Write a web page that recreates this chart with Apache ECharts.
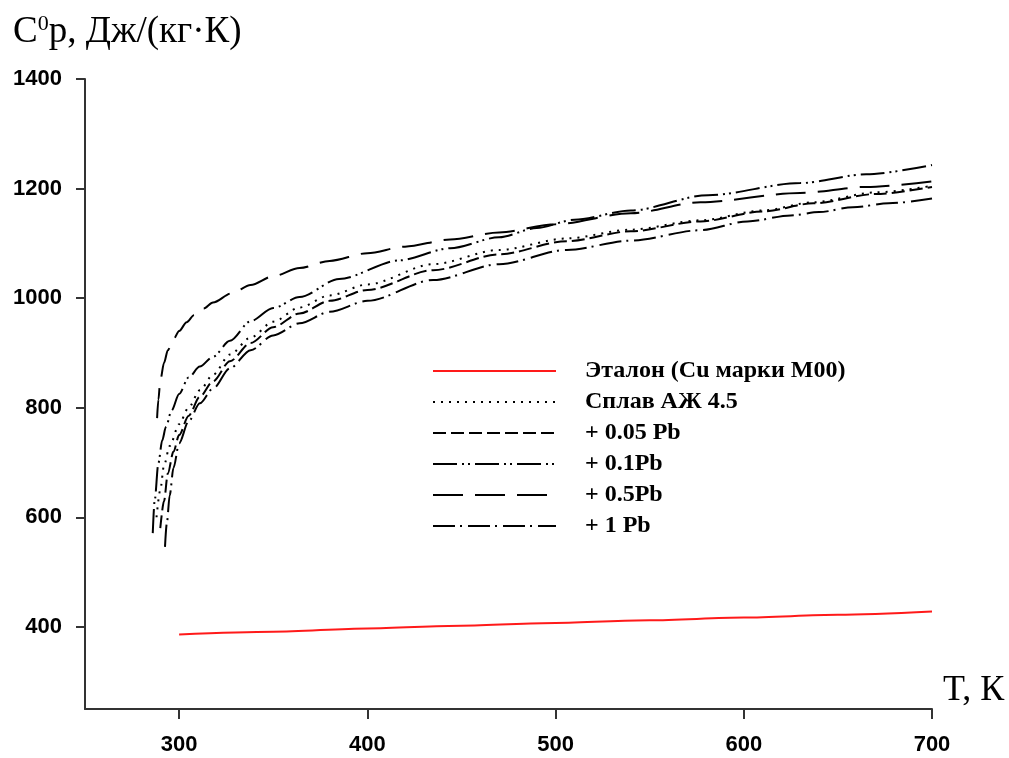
<!DOCTYPE html>
<html>
<head>
<meta charset="utf-8">
<script src="https://cdn.jsdelivr.net/npm/echarts@6/dist/echarts.min.js"></script>
<style>
  html, body { margin: 0; padding: 0; background: #fff; }
  #chart { width: 1009px; height: 758px; }
</style>
</head>
<body>
<div id="chart"></div>
<script>
// tick labels
var xTicks = [300, 400, 500, 600, 700];
var yTicks = [400, 600, 800, 1000, 1200, 1400];

var names = ['Эталон (Cu марки М00)', 'Сплав АЖ 4.5', '+ 0.05 Pb', '+ 0.1Pb', '+ 0.5Pb', '+ 1 Pb'];

// Эталон
var tRef = [300, 350, 400, 450, 500, 550, 600, 650, 700];
var cpRef = [386, 391, 397, 402, 407, 412, 417, 422, 428];

// Сплав АЖ 4.5
var tAlloy = [288, 290, 292, 295, 300, 305, 311, 318, 327, 338, 350, 364, 380, 400, 435, 470, 506, 540, 577, 610, 637, 670, 700];
var cpAlloy = [600, 650, 695, 730, 770, 800, 832, 860, 897, 928, 957, 983, 1005, 1025, 1062, 1088, 1109, 1125, 1142, 1160, 1175, 1193, 1205];

// + 0.05 Pb
var tPb005 = [290, 292, 294, 297, 300, 305, 311, 318, 327, 338, 350, 364, 380, 400, 435, 470, 506, 540, 577, 610, 637, 670, 700];
var cpPb005 = [580, 630, 680, 720, 750, 785, 820, 848, 885, 918, 947, 972, 995, 1015, 1051, 1080, 1104, 1122, 1140, 1158, 1173, 1190, 1203];

// + 0.1Pb
var tPb01 = [286, 287, 289, 291, 293, 296, 300, 305, 311, 318, 327, 338, 350, 364, 385, 417, 444, 470, 490, 510, 540, 581, 630, 665, 700];
var cpPb01 = [571, 630, 699, 740, 765, 795, 825, 855, 875, 893, 922, 958, 982, 1002, 1035, 1069, 1091, 1111, 1128, 1143, 1160, 1188, 1210, 1226, 1243];

// + 0.5Pb
var tPb05 = [288.3, 289, 290, 292, 294, 297, 300, 304, 308, 313, 318, 328, 338, 350, 364, 380, 400, 420, 444, 470, 500, 540, 577, 630, 665, 700];
var cpPb05 = [781, 815, 850, 882, 905, 925, 940, 956, 969, 981, 992, 1009, 1024, 1040, 1055, 1068, 1082, 1094, 1107, 1120, 1135, 1155, 1175, 1192, 1203, 1213];

// + 1 Pb
var tPb1 = [292.5, 293.5, 295, 297, 300, 305, 311, 318, 327, 338, 350, 364, 380, 400, 435, 470, 506, 540, 577, 602, 625, 640, 658, 677, 700];
var cpPb1 = [546, 590, 640, 690, 735, 775, 808, 835, 872, 905, 932, 954, 975, 995, 1033, 1062, 1088, 1105, 1124, 1140, 1151, 1157, 1166, 1173, 1182];

function zip(xs, ys) {
  return xs.map(function (x, i) { return [x, ys[i]]; });
}

var serif = "'Liberation Serif', 'Times New Roman', serif";
var sans = "'Liberation Sans', Arial, sans-serif";

function curve(name, xs, ys, color, dash, width) {
  return {
    name: name,
    type: 'line',
    data: zip(xs, ys),
    symbol: 'none',
    smooth: 0.3,
    smoothMonotone: 'x',
    lineStyle: { color: color, width: width, type: dash },
    itemStyle: { color: color }
  };
}

var chart = echarts.init(document.getElementById('chart'));
chart.setOption({
  animation: false,
  title: [
    {
      text: '{a|C}{b|0}{a|p, Дж/(кг·К)}',
      left: 8,
      top: 8,
      textStyle: {
        rich: {
          a: { fontFamily: serif, fontSize: 37, fontWeight: 'normal', color: '#000' },
          b: { fontFamily: serif, fontSize: 22, fontWeight: 'normal', color: '#000', padding: [0, 0, 16, 0] }
        }
      }
    },
    {
      text: 'T, К',
      left: 938,
      top: 668,
      textStyle: { fontFamily: serif, fontSize: 36, fontWeight: 'normal', color: '#000' }
    }
  ],
  legend: {
    orient: 'vertical',
    left: 432,
    top: 359,
    padding: 0,
    itemWidth: 123,
    itemHeight: 14,
    itemGap: 7,
    data: names,
    itemStyle: { opacity: 0 },
    textStyle: {
      fontFamily: serif,
      fontSize: 24,
      fontWeight: 'bold',
      color: '#000',
      padding: [0, 0, 0, 24]
    }
  },
  grid: { left: 85, right: 77, top: 79, bottom: 49, outerBoundsMode: 'none' },
  xAxis: {
    type: 'value',
    min: 250,
    max: 700,
    axisLine: { lineStyle: { color: '#333', width: 2 } },
    axisTick: { show: true, length: 10, customValues: xTicks, lineStyle: { color: '#333', width: 2 } },
    axisLabel: { customValues: xTicks, margin: 25, fontFamily: sans, fontSize: 22, fontWeight: 'bold', color: '#000' },
    splitLine: { show: false }
  },
  yAxis: {
    type: 'value',
    min: 250,
    max: 1400,
    axisLine: { show: true, lineStyle: { color: '#333', width: 2 } },
    axisTick: { show: true, length: 9, customValues: yTicks, lineStyle: { color: '#333', width: 2 } },
    axisLabel: {
      customValues: yTicks, margin: 23, fontFamily: sans, fontSize: 22, fontWeight: 'bold', color: '#000',
      formatter: function (v) { return String(v); }
    },
    splitLine: { show: false }
  },
  series: [
    curve(names[0], tRef, cpRef, '#ff1a1a', 'solid', 2),
    curve(names[1], tAlloy, cpAlloy, '#000', [2, 6], 2),
    curve(names[2], tPb005, cpPb005, '#000', [13, 5], 2),
    curve(names[3], tPb01, cpPb01, '#000', [24, 5, 2, 4, 2, 5], 2),
    curve(names[4], tPb05, cpPb05, '#000', [30, 12], 2),
    curve(names[5], tPb1, cpPb1, '#000', [22, 5, 2, 6], 2)
  ]
});
</script>
</body>
</html>
